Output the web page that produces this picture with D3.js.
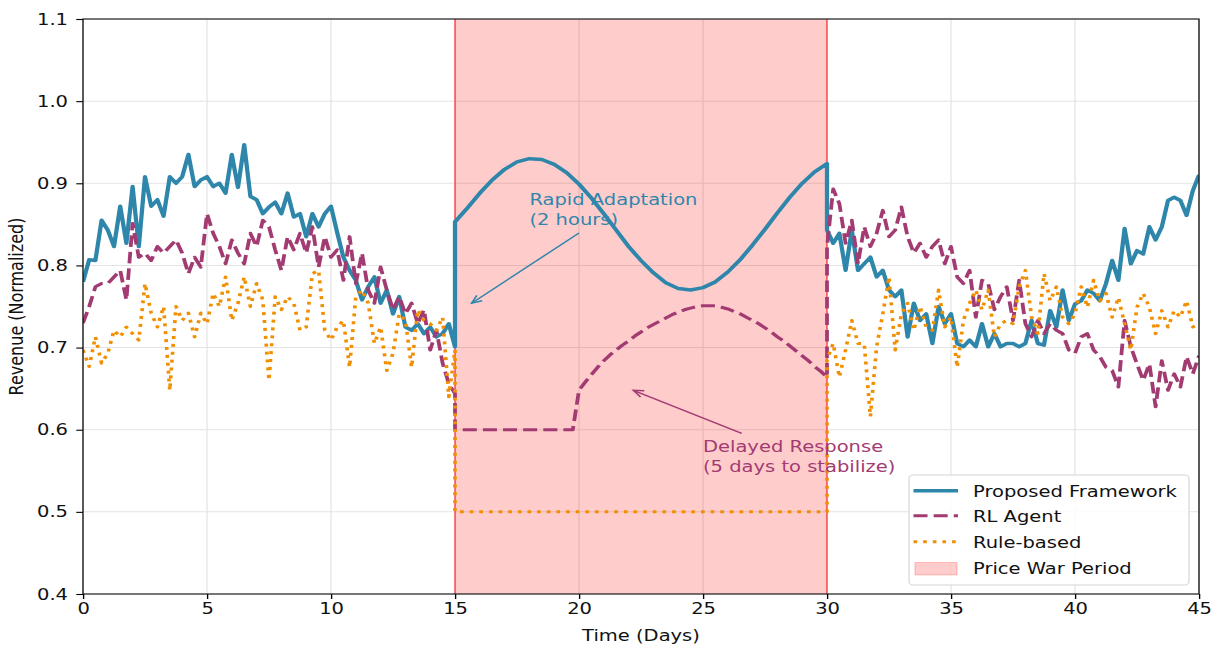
<!DOCTYPE html>
<html>
<head>
<meta charset="utf-8">
<script src="https://cdn.jsdelivr.net/npm/d3@7"></script>
<style>
  body { margin: 0; background: #fff; }
  svg { display: block; }
</style>
</head>
<body>
<svg id="chart" width="1212" height="647"></svg>
<script>
var width = 1212;
var height = 647;
// the source figure is widened horizontally, so we draw in a narrower frame and stretch it
var stretch = 1.22;

var blue = "#2E86AB";
var purple = "#A23B72";
var orange = "#F18F01";

var xTicks = [0, 5, 10, 15, 20, 25, 30, 35, 40, 45];
var yTicks = [0.4, 0.5, 0.6, 0.7, 0.8, 0.9, 1.0, 1.1];
var legendLabels = ["Proposed Framework", "RL Agent", "Rule-based", "Price War Period"];
var warPeriod = [15, 30];

// days 0..15 every 6 hours
var proposedPre = [0.780, 0.807, 0.806, 0.855, 0.843, 0.823, 0.872, 0.827, 0.896, 0.823, 0.908, 0.872,
  0.880, 0.860, 0.908, 0.900, 0.908, 0.935, 0.896, 0.904, 0.908, 0.896, 0.900, 0.888,
  0.935, 0.895, 0.947, 0.884, 0.880, 0.863, 0.871, 0.877, 0.863, 0.888, 0.859, 0.863,
  0.835, 0.863, 0.847, 0.863, 0.872, 0.840, 0.810, 0.794, 0.782, 0.758, 0.774, 0.786,
  0.754, 0.770, 0.741, 0.762, 0.725, 0.721, 0.729, 0.717, 0.725, 0.713, 0.717, 0.729, 0.701];
var rlPre = [0.730, 0.750, 0.774, 0.778, 0.778, 0.786, 0.794, 0.758, 0.851, 0.810, 0.815, 0.806,
  0.823, 0.815, 0.823, 0.831, 0.815, 0.790, 0.810, 0.798, 0.863, 0.839, 0.823, 0.802,
  0.831, 0.815, 0.802, 0.839, 0.823, 0.855, 0.847, 0.819, 0.794, 0.835, 0.819, 0.839,
  0.815, 0.847, 0.798, 0.835, 0.810, 0.819, 0.782, 0.835, 0.778, 0.815, 0.770, 0.754,
  0.798, 0.770, 0.746, 0.762, 0.741, 0.754, 0.729, 0.746, 0.697, 0.721, 0.681, 0.656, 0.644];
var rulePre = [0.697, 0.677, 0.713, 0.681, 0.693, 0.721, 0.713, 0.725, 0.717, 0.709, 0.778, 0.742,
  0.725, 0.750, 0.648, 0.750, 0.733, 0.742, 0.713, 0.742, 0.729, 0.766, 0.750, 0.786,
  0.733, 0.754, 0.786, 0.750, 0.778, 0.758, 0.660, 0.762, 0.746, 0.762, 0.754, 0.721,
  0.725, 0.790, 0.794, 0.721, 0.709, 0.725, 0.733, 0.676, 0.762, 0.770, 0.754, 0.705,
  0.725, 0.672, 0.693, 0.741, 0.733, 0.676, 0.746, 0.733, 0.729, 0.721, 0.737, 0.640, 0.697];

// days 15..30 (price war): proposed and rule-based every 12 hours, RL agent every 6 hours
var proposedWar = [0.853, 0.870, 0.888, 0.904, 0.917, 0.926, 0.930, 0.929, 0.923, 0.913, 0.899,
  0.882, 0.863, 0.843, 0.823, 0.806, 0.791, 0.779, 0.772, 0.770, 0.773, 0.780, 0.792,
  0.807, 0.825, 0.844, 0.864, 0.883, 0.900, 0.914, 0.924];
var rlWar = [0.600, 0.600, 0.600, 0.600, 0.600, 0.600, 0.600, 0.600, 0.600, 0.600,
  0.600, 0.600, 0.600, 0.600, 0.600, 0.600, 0.600, 0.600, 0.600, 0.600,
  0.648, 0.658, 0.667, 0.676, 0.684, 0.691, 0.697, 0.703, 0.708, 0.714, 0.719, 0.724,
  0.728, 0.732, 0.736, 0.740, 0.743, 0.746, 0.748, 0.750, 0.751, 0.751, 0.751, 0.749,
  0.747, 0.744, 0.741, 0.737, 0.733, 0.729, 0.724, 0.719, 0.713, 0.708, 0.702, 0.696,
  0.690, 0.684, 0.677, 0.671, 0.664];
var ruleWar = [0.5, 0.5, 0.5, 0.5, 0.5, 0.5, 0.5, 0.5, 0.5, 0.5, 0.5,
  0.5, 0.5, 0.5, 0.5, 0.5, 0.5, 0.5, 0.5, 0.5, 0.5, 0.5, 0.5,
  0.5, 0.5, 0.5, 0.5, 0.5, 0.5, 0.5, 0.5];

// days 30..45 every 6 hours
var proposedPost = [0.843, 0.827, 0.839, 0.794, 0.843, 0.794, 0.802, 0.810, 0.786, 0.794, 0.770, 0.762,
  0.770, 0.713, 0.754, 0.733, 0.741, 0.705, 0.750, 0.729, 0.741, 0.705, 0.701, 0.709,
  0.701, 0.729, 0.701, 0.717, 0.701, 0.705, 0.705, 0.701, 0.705, 0.733, 0.705, 0.703,
  0.745, 0.725, 0.770, 0.733, 0.753, 0.757, 0.770, 0.766, 0.757, 0.778, 0.806, 0.782,
  0.845, 0.802, 0.818, 0.814, 0.847, 0.831, 0.847, 0.879, 0.883, 0.879, 0.861, 0.891, 0.910];
var rlPost = [0.823, 0.893, 0.875, 0.827, 0.855, 0.802, 0.847, 0.823, 0.839, 0.867, 0.835, 0.843,
  0.871, 0.835, 0.815, 0.827, 0.810, 0.823, 0.831, 0.802, 0.823, 0.786, 0.778, 0.794,
  0.737, 0.782, 0.778, 0.746, 0.762, 0.774, 0.733, 0.782, 0.729, 0.713, 0.733, 0.717,
  0.729, 0.721, 0.717, 0.697, 0.693, 0.713, 0.717, 0.697, 0.689, 0.676, 0.672, 0.652,
  0.733, 0.701, 0.680, 0.660, 0.680, 0.628, 0.684, 0.648, 0.668, 0.652, 0.689, 0.668, 0.690];
var rulePost = [0.685, 0.705, 0.664, 0.697, 0.733, 0.705, 0.705, 0.616, 0.701, 0.741, 0.786, 0.697,
  0.741, 0.754, 0.721, 0.750, 0.725, 0.721, 0.770, 0.725, 0.737, 0.676, 0.733, 0.754,
  0.770, 0.746, 0.770, 0.713, 0.729, 0.733, 0.729, 0.774, 0.794, 0.737, 0.717, 0.790,
  0.757, 0.774, 0.737, 0.729, 0.741, 0.774, 0.749, 0.782, 0.757, 0.766, 0.737, 0.761,
  0.729, 0.697, 0.749, 0.766, 0.749, 0.717, 0.745, 0.725, 0.745, 0.737, 0.757, 0.725, 0.729];

var rapidLines = ["Rapid Adaptation", "(2 hours)"];
var delayedLines = ["Delayed Response", "(5 days to stabilize)"];

function joinSeries(pre, war, post) {
  var warStep = (warPeriod[1] - warPeriod[0]) / (war.length - 1);
  var pts = pre.map((v, i) => [i * 0.25, v]);
  pts = pts.concat(war.map((v, i) => [warPeriod[0] + i * warStep, v]));
  return pts.concat(post.map((v, i) => [warPeriod[1] + i * 0.25, v]));
}

var plotLeft = 83 / stretch, plotRight = 1199 / stretch, plotTop = 19, plotBottom = 594;

var svg = d3.select("#chart");
svg.append("rect").attr("width", width).attr("height", height).attr("fill", "#fff");
var root = svg.append("g").attr("transform", `scale(${stretch},1)`)
  .style("font-family", "'DejaVu Sans', sans-serif");

var x = d3.scaleLinear().domain([0, 45]).range([plotLeft, plotRight]);
var y = d3.scaleLinear().domain([0.4, 1.1]).range([plotBottom, plotTop]);

root.append("defs").append("clipPath").attr("id", "plot-clip")
  .append("rect").attr("x", plotLeft).attr("y", plotTop)
  .attr("width", plotRight - plotLeft).attr("height", plotBottom - plotTop);

// grid
var grid = root.append("g");
grid.selectAll(".gx").data(xTicks).enter().append("line")
  .attr("x1", d => x(d)).attr("x2", d => x(d)).attr("y1", plotTop).attr("y2", plotBottom)
  .attr("stroke", "#e3e3e3").attr("stroke-width", 1);
grid.selectAll(".gy").data(yTicks).enter().append("line")
  .attr("x1", plotLeft).attr("x2", plotRight).attr("y1", d => y(d)).attr("y2", d => y(d))
  .attr("stroke", "#e3e3e3").attr("stroke-width", 1);

// price war band
root.append("rect")
  .attr("x", x(warPeriod[0])).attr("y", plotTop)
  .attr("width", x(warPeriod[1]) - x(warPeriod[0])).attr("height", plotBottom - plotTop)
  .attr("fill", "red").attr("fill-opacity", 0.2);
root.selectAll(".vline").data(warPeriod).enter().append("line")
  .attr("x1", d => x(d)).attr("x2", d => x(d)).attr("y1", plotTop).attr("y2", plotBottom)
  .attr("stroke", "red").attr("stroke-opacity", 0.6).attr("stroke-width", 1.3);

var line = d3.line().x(d => x(d[0])).y(d => y(d[1]));
var plot = root.append("g").attr("clip-path", "url(#plot-clip)");

plot.append("path").datum(joinSeries(proposedPre, proposedWar, proposedPost))
  .attr("d", line).attr("fill", "none").attr("stroke", blue)
  .attr("stroke-width", 3.5).attr("stroke-linejoin", "round");
plot.append("path").datum(joinSeries(rlPre, rlWar, rlPost))
  .attr("d", line).attr("fill", "none").attr("stroke", purple)
  .attr("stroke-width", 3.1).attr("stroke-dasharray", "11.5,5").attr("stroke-linejoin", "round");
plot.append("path").datum(joinSeries(rulePre, ruleWar, rulePost))
  .attr("d", line).attr("fill", "none").attr("stroke", orange)
  .attr("stroke-width", 3).attr("stroke-dasharray", "3,4.9").attr("stroke-linejoin", "round");

// axes
var xAxis = root.append("g").attr("transform", `translate(0,${plotBottom})`)
  .call(d3.axisBottom(x).tickValues(xTicks).tickSize(5).tickPadding(3.5).tickSizeOuter(0));
var yAxis = root.append("g").attr("transform", `translate(${plotLeft},0)`)
  .call(d3.axisLeft(y).tickValues(yTicks).tickFormat(d3.format(".1f")).tickSize(5.5).tickPadding(6.8).tickSizeOuter(0));
[xAxis, yAxis].forEach(a => {
  a.select(".domain").remove();
  a.attr("font-family", "'DejaVu Sans', sans-serif").attr("font-size", 16);
  a.selectAll("text").attr("fill", "#111");
  a.selectAll("line").attr("stroke-width", 1.1);
});

root.append("rect").attr("x", plotLeft).attr("y", plotTop)
  .attr("width", plotRight - plotLeft).attr("height", plotBottom - plotTop)
  .attr("fill", "none").attr("stroke", "#111").attr("stroke-width", 1.1);

root.append("text").attr("x", x(22.5)).attr("y", 641)
  .attr("text-anchor", "middle").attr("font-size", 16).attr("fill", "#111")
  .text("Time (Days)");
root.append("text").attr("transform", `translate(${23.3 / stretch},${(plotTop + plotBottom) / 2}) rotate(-90)`)
  .attr("text-anchor", "middle").attr("font-size", 16).attr("fill", "#111")
  .text("Revenue (Normalized)");

// annotations
function annotate(lines, tx, ty, from, to, color) {
  var t = root.append("text").attr("x", x(tx)).attr("y", y(ty))
    .attr("font-size", 16).attr("fill", color);
  lines.forEach((s, i) => {
    t.append("tspan").attr("x", x(tx)).attr("dy", i === 0 ? 0 : 20).text(s);
  });
  var x1 = x(from[0]), y1 = y(from[1]), x2 = x(to[0]), y2 = y(to[1]);
  var ang = Math.atan2(y2 - y1, x2 - x1);
  var head = 9, spread = 0.4;
  var g = root.append("g").attr("stroke", color).attr("stroke-width", 1.4).attr("fill", "none");
  g.append("line").attr("x1", x1).attr("y1", y1).attr("x2", x2).attr("y2", y2);
  g.append("path").attr("d",
    `M${x2 - head * Math.cos(ang - spread)},${y2 - head * Math.sin(ang - spread)}` +
    `L${x2},${y2}` +
    `L${x2 - head * Math.cos(ang + spread)},${y2 - head * Math.sin(ang + spread)}`);
}
annotate(rapidLines, 18.0, 0.8736, [20.0, 0.8395], [15.67, 0.754], blue);
annotate(delayedLines, 25.0, 0.5732, [26.56, 0.5956], [22.19, 0.648], purple);

// legend
var lg = root.append("g");
var lx = 909 / stretch;
lg.append("rect").attr("x", lx).attr("y", 475).attr("width", 280 / stretch).attr("height", 110)
  .attr("rx", 3.5).attr("fill", "#fff").attr("fill-opacity", 0.85)
  .attr("stroke", "#d6d6d6").attr("stroke-width", 1);
var hx1 = 913.5 / stretch, hx2 = 958 / stretch, tx = 973 / stretch;
var rowsY = [490.7, 515.7, 541.7];
var styles = [
  { c: blue, w: 3.5, dash: null },
  { c: purple, w: 3.1, dash: "11.5,5" },
  { c: orange, w: 3, dash: "3,4.9" }
];
styles.forEach((s, i) => {
  lg.append("line").attr("x1", hx1).attr("x2", hx2).attr("y1", rowsY[i]).attr("y2", rowsY[i])
    .attr("stroke", s.c).attr("stroke-width", s.w).attr("stroke-dasharray", s.dash);
});
lg.append("rect").attr("x", 915 / stretch).attr("y", 562.5)
  .attr("width", 42 / stretch).attr("height", 12.5)
  .attr("fill", "red").attr("fill-opacity", 0.2)
  .attr("stroke", "red").attr("stroke-opacity", 0.2);
var textY = [497, 522.5, 548.3, 574];
legendLabels.forEach((s, i) => {
  lg.append("text").attr("x", tx).attr("y", textY[i]).attr("font-size", 16).attr("fill", "#111").text(s);
});
</script>
</body>
</html>
